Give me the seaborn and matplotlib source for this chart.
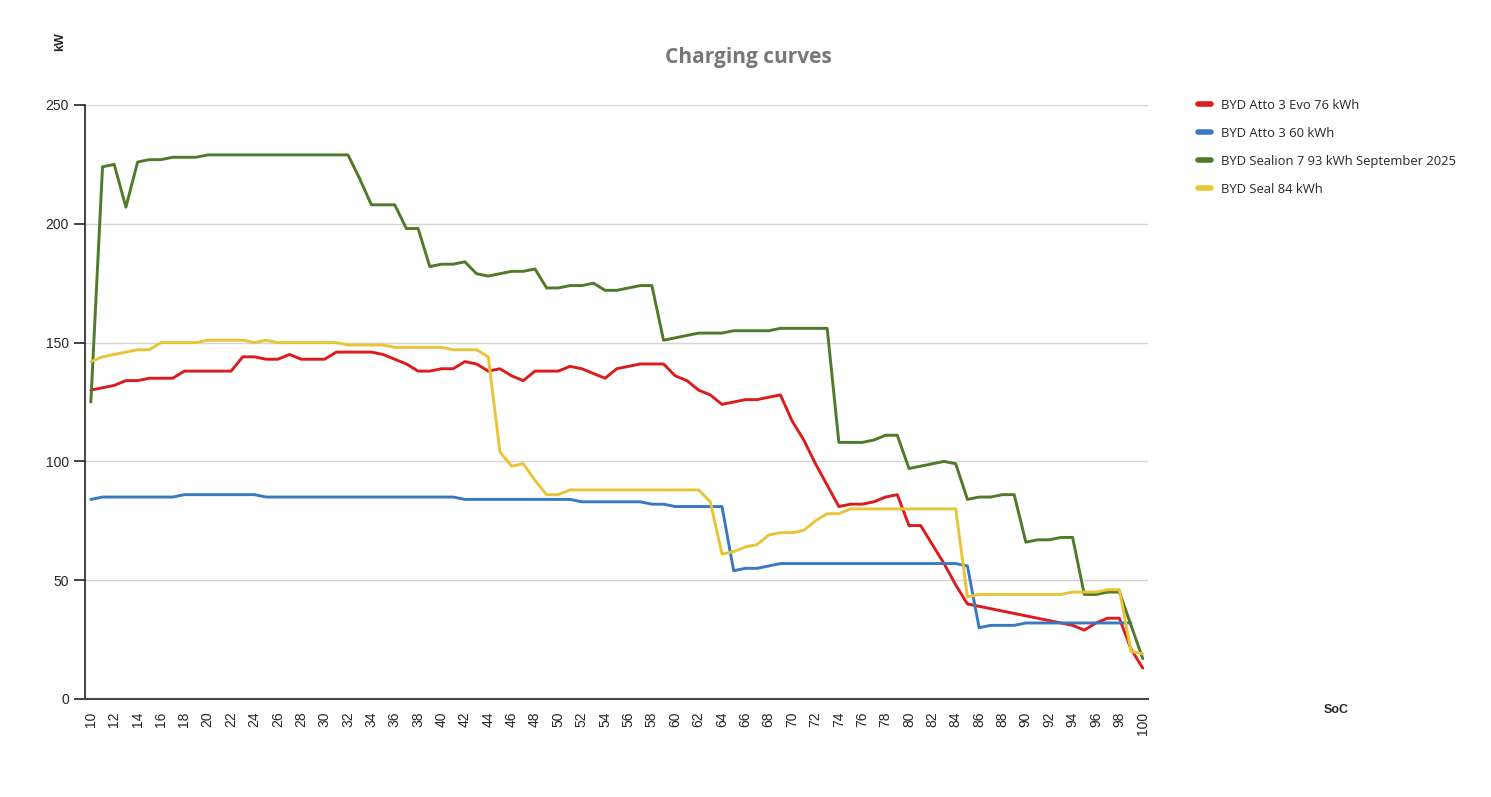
import numpy as np
import pandas as pd
import matplotlib
matplotlib.use("Agg")
import matplotlib.pyplot as plt
import seaborn as sns

soc = list(range(10, 101))

atto3_evo_76 = [130, 131, 132, 134, 134, 135, 135, 135, 138, 138,
                138, 138, 138, 144, 144, 143, 143, 145, 143, 143,
                143, 146, 146, 146, 146, 145, 143, 141, 138, 138,
                139, 139, 142, 141, 138, 139, 136, 134, 138, 138,
                138, 140, 139, 137, 135, 139, 140, 141, 141, 141,
                136, 134, 130, 128, 124, 125, 126, 126, 127, 128,
                117, 109, 99, 90, 81, 82, 82, 83, 85, 86,
                73, 73, 65, 57, 48, 40, 39, 38, 37, 36,
                35, 34, 33, 32, 31, 29, 32, 34, 34, 21, 13]

atto3_60 = [84, 85, 85, 85, 85, 85, 85, 85, 86, 86,
            86, 86, 86, 86, 86, 85, 85, 85, 85, 85,
            85, 85, 85, 85, 85, 85, 85, 85, 85, 85,
            85, 85, 84, 84, 84, 84, 84, 84, 84, 84,
            84, 84, 83, 83, 83, 83, 83, 83, 82, 82,
            81, 81, 81, 81, 81, 54, 55, 55, 56, 57,
            57, 57, 57, 57, 57, 57, 57, 57, 57, 57,
            57, 57, 57, 57, 57, 56, 30, 31, 31, 31,
            32, 32, 32, 32, 32, 32, 32, 32, 32, 32, np.nan]

sealion7_93 = [125, 224, 225, 207, 226, 227, 227, 228, 228, 228,
               229, 229, 229, 229, 229, 229, 229, 229, 229, 229,
               229, 229, 229, 219, 208, 208, 208, 198, 198, 182,
               183, 183, 184, 179, 178, 179, 180, 180, 181, 173,
               173, 174, 174, 175, 172, 172, 173, 174, 174, 151,
               152, 153, 154, 154, 154, 155, 155, 155, 155, 156,
               156, 156, 156, 156, 108, 108, 108, 109, 111, 111,
               97, 98, 99, 100, 99, 84, 85, 85, 86, 86,
               66, 67, 67, 68, 68, 44, 44, 45, 45, 31, 17]

seal_84 = [142, 144, 145, 146, 147, 147, 150, 150, 150, 150,
           151, 151, 151, 151, 150, 151, 150, 150, 150, 150,
           150, 150, 149, 149, 149, 149, 148, 148, 148, 148,
           148, 147, 147, 147, 144, 104, 98, 99, 92, 86,
           86, 88, 88, 88, 88, 88, 88, 88, 88, 88,
           88, 88, 88, 83, 61, 62, 64, 65, 69, 70,
           70, 71, 75, 78, 78, 80, 80, 80, 80, 80,
           80, 80, 80, 80, 80, 43, 44, 44, 44, 44,
           44, 44, 44, 44, 45, 45, 45, 46, 46, 20, 19]

series_names = ["BYD Atto 3 Evo 76 kWh", "BYD Atto 3 60 kWh",
                "BYD Sealion 7 93 kWh September 2025", "BYD Seal 84 kWh"]
series_values = [atto3_evo_76, atto3_60, sealion7_93, seal_84]
colors = ["#dc1c1c", "#3a78c2", "#4e7a2a", "#e8c436"]

frames = []
for name, vals in zip(series_names, series_values):
    frames.append(pd.DataFrame({"SoC": soc, "kW": vals, "series": name}))
df = pd.concat(frames, ignore_index=True)

sns.set_style("white")
plt.rcParams['font.family'] = ['Liberation Sans', 'DejaVu Sans']

fig = plt.figure(figsize=(14.91, 7.97), dpi=100)
ax = fig.add_axes([85 / 1491, 1 - 699 / 797, (1148 - 85) / 1491, (699 - 105) / 797])

sns.lineplot(data=df, x="SoC", y="kW", hue="series", hue_order=series_names,
             palette=colors, linewidth=2.1, ax=ax, legend=False, sort=False)

ax.set_xlim(9.5, 100.45)
ax.set_ylim(0, 250)
ax.set_yticks(range(0, 251, 50))
ax.yaxis.grid(True, color="#d4d4d4", linewidth=1.0)
ax.xaxis.grid(False)
ax.set_axisbelow(True)

ax.set_xticks(range(10, 101, 2))
ax.set_xticklabels([str(v) for v in range(10, 101, 2)], rotation=90, fontsize=10)
ax.set_xticks(range(10, 101), minor=True)
ax.tick_params(axis="x", which="both", direction="inout", length=14, width=1.2,
               color="#222222", pad=2)
ax.tick_params(axis="y", which="major", direction="out", length=8, width=1.2,
               color="#222222", labelsize=10, left=True)

for s in ["top", "right"]:
    ax.spines[s].set_visible(False)
ax.spines["left"].set_color("#222222")
ax.spines["bottom"].set_color("#444444")
ax.spines["left"].set_linewidth(1.2)
ax.spines["bottom"].set_linewidth(1.5)

ax.set_xlabel("")
ax.set_ylabel("")

fig.text(60 / 1491, 1 - 42 / 797, "kW", rotation=90, fontsize=9, fontweight="bold",
         ha="center", va="center")
fig.text(1336 / 1491, 1 - 710 / 797, "SoC", fontsize=9, fontweight="bold",
         ha="center", va="center")
fig.text(748 / 1491, 1 - 58 / 797, "Charging curves", fontsize=15, fontweight="bold",
         color="#777777", ha="center", va="center", family=["Open Sans", "DejaVu Sans"])

handles = [plt.Line2D([0], [0], color=c, linewidth=4) for c in colors]
fig.legend(handles, series_names, loc="upper left",
           bbox_to_anchor=(1186 / 1491, 1 - 87 / 797), frameon=False,
           handlelength=1.0, handletextpad=0.8, labelspacing=1.15,
           prop={"family": ["Open Sans", "DejaVu Sans"], "size": 9.4})

fig.savefig("out.png", dpi=100)
